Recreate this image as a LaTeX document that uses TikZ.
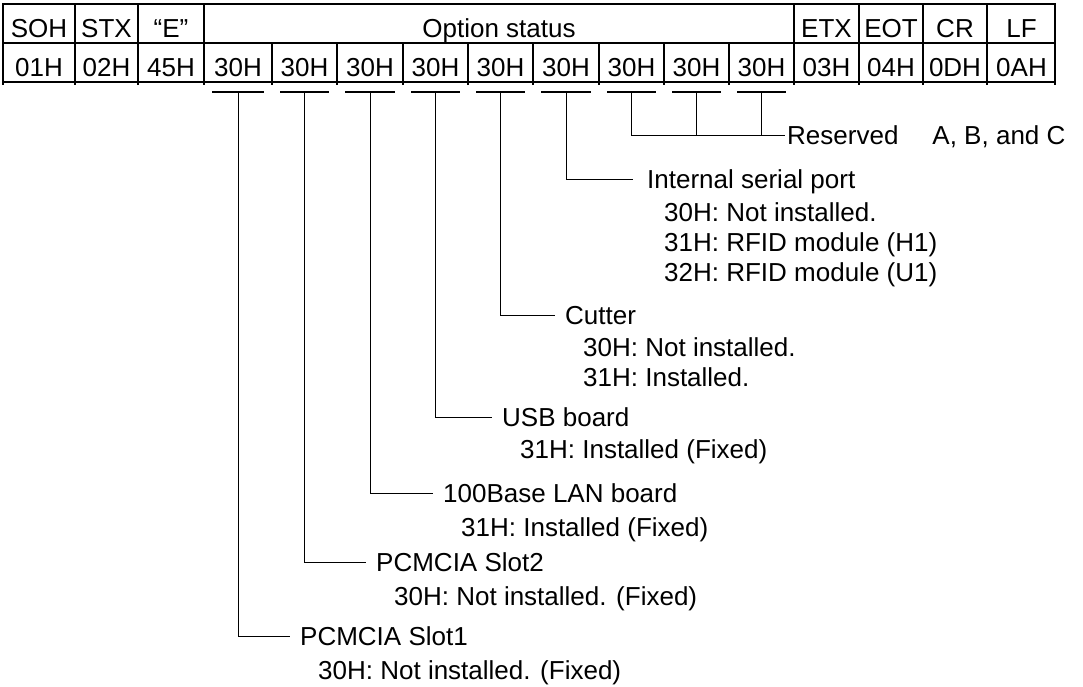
\documentclass[tikz,border=0pt]{standalone}
\usepackage{fontspec}
\setmainfont{Liberation Sans}
\usetikzlibrary{positioning}
\tikzset{grid/.style={line width=1.7pt},bar/.style={line width=1.4pt},conn/.style={line width=0.9pt},
  cell/.style={inner sep=0pt,text height=19pt,text depth=0pt},
  lbl/.style={anchor=west,inner ysep=0pt,inner xsep=10pt,text height=19pt,text depth=0pt},
  sub/.style={anchor=base west,inner sep=0pt}}
\begin{document}
\begin{tikzpicture}[x=1pt,y=-1pt,font=\fontsize{26}{30}\selectfont]
\useasboundingbox(0,0)rectangle(1083,686);
% frame of the command
\draw[grid](2,4)--(1056,4)(2,43)--(1056,43)(2,82)--(1056,82);
\foreach \x in {3,75,138,204,794,859,923,987,1055}\draw[grid](\x,4)--(\x,85);
\foreach \x in {272,337,403,468,533,599,664,729}\draw[grid](\x,43)--(\x,85);
\foreach \a/\b/\t/\n in {3/75/SOH/soh,75/138/STX/stx,138/204/“E”/quo,204/794/Option status/opt,794/859/ETX/etx,859/923/EOT/eot,923/987/CR/cr,987/1056/LF/lf}\node[cell](\n)at({(\a+\b)/2},28){\t};
\foreach \a/\b/\t/\n in {3/75/01H/hsoh,75/138/02H/hstx,138/204/45H/hquo,794/859/03H/hetx,859/923/04H/heot,923/987/0DH/hcr,987/1056/0AH/hlf}\node[cell](\n)at({(\a+\b)/2},67){\t};
% option bytes
\foreach \a/\b [count=\i] in {204/272,272/337,337/403,403/468,468/533,533/599,599/664,664/729,729/794}{
  \node[cell](d\i)at({(\a+\b)/2},67){30H};
  \coordinate(t\i)at({(\a+\b)/2},92);
  \draw[bar]({\a+8},92)--({\b-8},92);}
% labels
\node[lbl,inner xsep=2pt](res)at(785,135){Reserved\hspace{34pt}A, B, and C};
\node[lbl,inner xsep=14pt](int)at(633,179){Internal serial port};
\node[sub](int1)at([xshift=31pt,yshift=-33pt]int.base west){30H: Not installed.};
\node[sub](int2)at([yshift=-30pt]int1.base west){31H: RFID module (H1)};
\node[sub](int3)at([yshift=-30pt]int2.base west){32H: RFID module (U1)};
\node[lbl](cut)at(555,315){Cutter};
\node[sub](cut1)at([xshift=28pt,yshift=-32pt]cut.base west){30H: Not installed.};
\node[sub](cut2)at([yshift=-30pt]cut1.base west){31H: Installed.};
\node[lbl](usb)at(492,417){USB board};
\node[sub](usb1)at([xshift=28pt,yshift=-32pt]usb.base west){31H: Installed (Fixed)};
\node[lbl](lan)at(433,493){100Base LAN board};
\node[sub](lan1)at([xshift=28pt,yshift=-34pt]lan.base west){31H: Installed (Fixed)};
\node[lbl](slb)at(366,562){PCMCIA Slot2};
\node[sub](slb1)at([xshift=28pt,yshift=-34pt]slb.base west){30H: Not installed. (Fixed)};
\node[lbl](sla)at(290,636){PCMCIA Slot1};
\node[sub](sla1)at([xshift=28pt,yshift=-34pt]sla.base west){30H: Not installed. (Fixed)};
% leaders
\draw[conn](t7)|-(res.west)(t8)--(t8|-res.west)(t9)--(t9|-res.west);
\draw[conn](t6)|-(int.west);\draw[conn](t5)|-(cut.west);\draw[conn](t4)|-(usb.west);
\draw[conn](t3)|-(lan.west);\draw[conn](t2)|-(slb.west);\draw[conn](t1)|-(sla.west);
\end{tikzpicture}
\end{document}
